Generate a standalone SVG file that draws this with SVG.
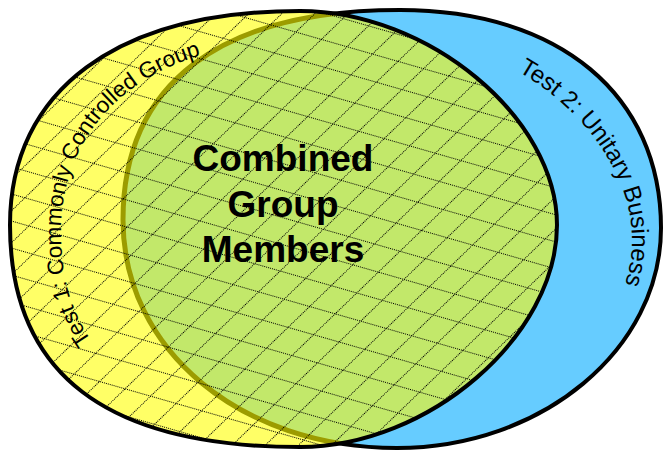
<svg xmlns="http://www.w3.org/2000/svg" xmlns:xlink="http://www.w3.org/1999/xlink" width="663" height="450" viewBox="0 0 663 450">
<style>
.lbl{font-family:"Liberation Sans",Arial,sans-serif;fill:#000}
.big{font-family:"Liberation Sans",Arial,sans-serif;font-size:37px;font-weight:bold;fill:#000;text-anchor:middle}
.hl{stroke:#000;stroke-width:1;stroke-dasharray:1 1;fill:none}
</style>
<defs>
<path id="blueShape" d="M123,220 C123,83.5 220,10 400,10 C559.2,10 661,95 661,228 C661,349 542.2,448 397,448 C240.8,448 123,350 123,220 Z"/>
<path id="yellowShape" d="M10,225 C10,90.2 117.3,11 300,11 C428.5,11 557,118 557,225 C557,336 428.5,447 300,447 C105.7,447 10,373.7 10,225 Z"/>
<clipPath id="clipYellow"><use xlink:href="#yellowShape"/></clipPath>
<pattern id="hatchA" patternUnits="userSpaceOnUse" width="8" height="26" patternTransform="translate(443,209) rotate(16)">
<line class="hl" x1="0" y1="0.5" x2="8" y2="0.5"/>
</pattern>
<pattern id="hatchB" patternUnits="userSpaceOnUse" width="23" height="8" patternTransform="translate(443,209) rotate(46)">
<line class="hl" x1="0.5" y1="0" x2="0.5" y2="8"/>
</pattern>
<path id="arc1" d="M300,416 C139.9,416 61,355.3 61,232 C61,118.6 152.6,43 290,43"/>
<path id="arc2" d="M400,38 C515.5,38 632,138 632,240 C632,339 525.4,420 400,420"/>
</defs>
<g id="connectors"/>
<g id="test2">
<use xlink:href="#blueShape" fill="#66CCFF" stroke="#000" stroke-width="4"/>
</g>
<g id="test1">
<use xlink:href="#yellowShape" fill="#FFFF66"/>
</g>
<g id="combined">
<g clip-path="url(#clipYellow)">
<use xlink:href="#blueShape" fill="#C2E86A"/>
<use xlink:href="#blueShape" fill="none" stroke="#9C9C00" stroke-width="5"/>
<rect x="0" y="0" width="663" height="450" fill="url(#hatchA)"/>
<rect x="0" y="0" width="663" height="450" fill="url(#hatchB)"/>
</g>
<use xlink:href="#yellowShape" fill="none" stroke="#000" stroke-width="4"/>
<text class="big" x="283" y="171">Combined</text>
<text class="big" x="283" y="217">Group</text>
<text class="big" x="283" y="262">Members</text>
</g>
<g id="labels">
<text class="lbl" font-size="22.5"><textPath xlink:href="#arc1" startOffset="230">Test 1: Commonly Controlled Group</textPath></text>
<text class="lbl" font-size="24"><textPath xlink:href="#arc2" startOffset="124">Test 2: Unitary Business</textPath></text>
</g>
</svg>
